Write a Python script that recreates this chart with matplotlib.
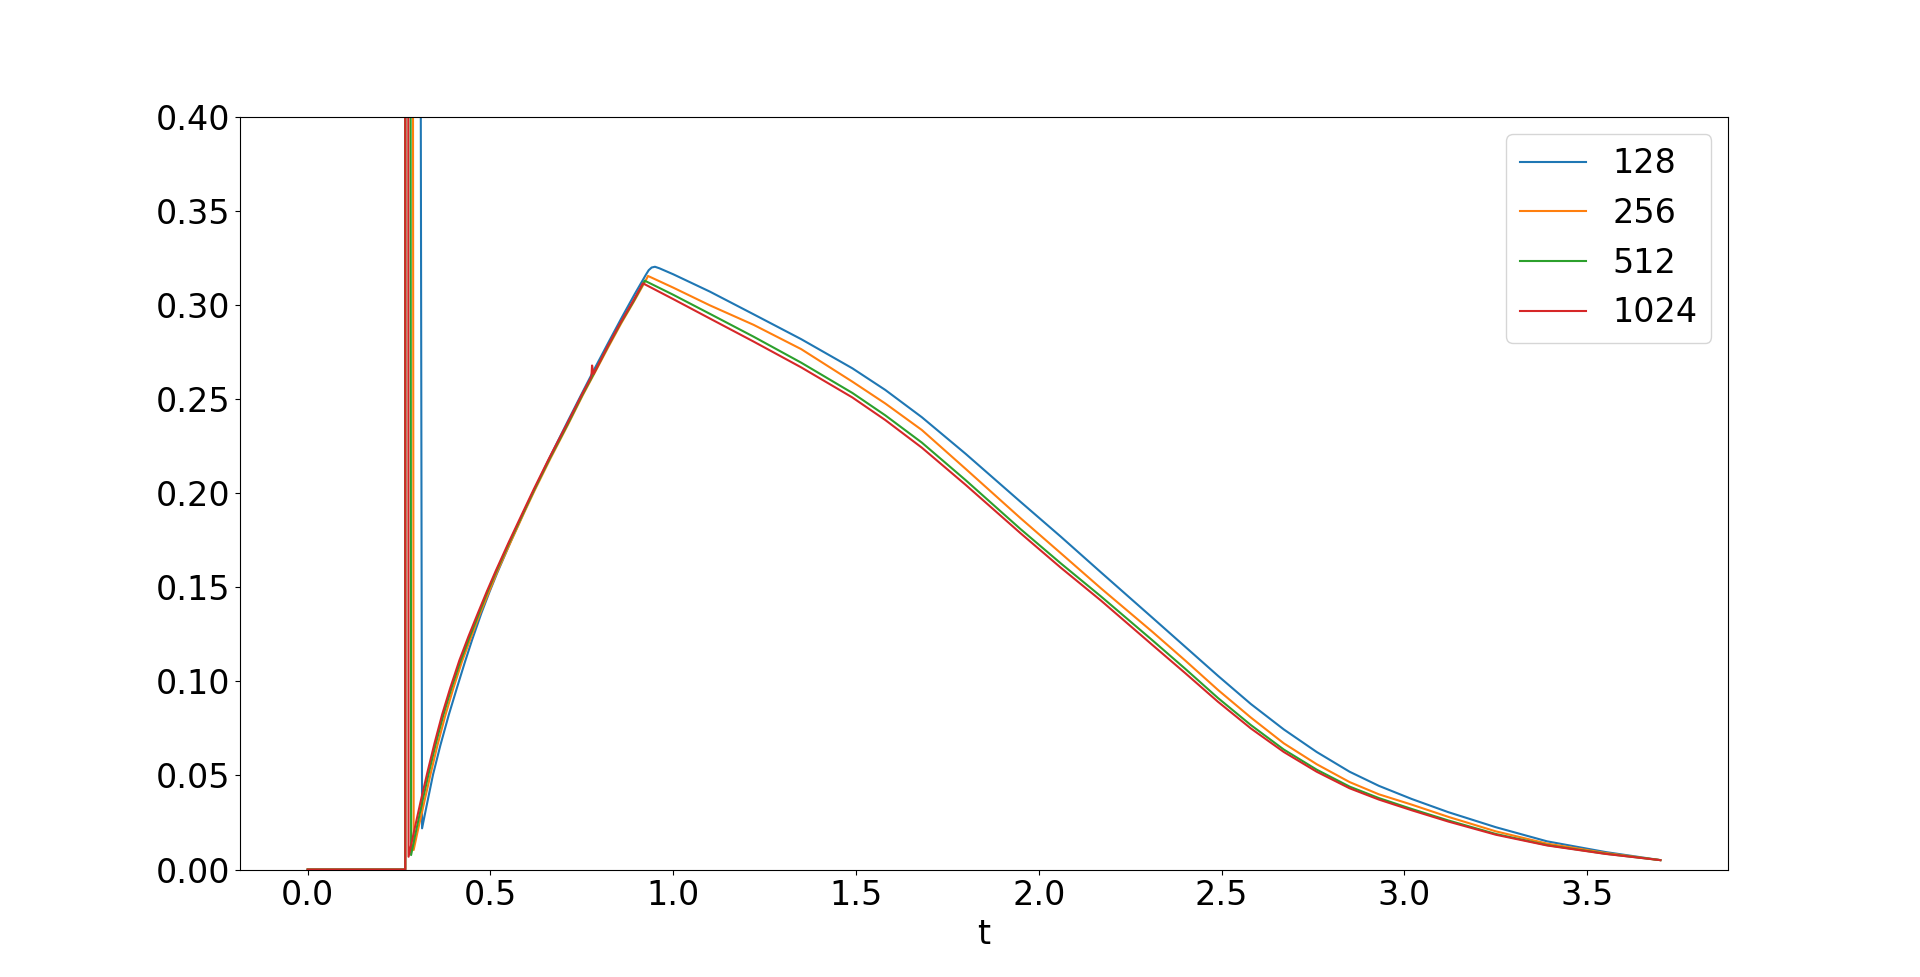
import matplotlib
matplotlib.use("Agg")
import matplotlib.pyplot as plt

# resolution labels
labels = ["128", "256", "512", "1024"]

# zero start, spike off the top at t~0.267, dip, rise to the kink, then decay
t_128 = [0.0, 0.267, 0.2672, 0.313, 0.325, 0.343, 0.363, 0.386, 0.409, 0.430,
         0.450, 0.475, 0.498, 0.518, 0.556, 0.598, 0.6255, 0.668, 0.714, 0.755,
         0.787, 0.825, 0.860, 0.895, 0.925, 0.933, 0.941, 0.950, 0.962, 1.0,
         1.1, 1.22, 1.35, 1.49, 1.58, 1.68, 1.80, 1.95, 2.06, 2.17,
         2.31, 2.40, 2.49, 2.58, 2.67, 2.76, 2.85, 2.93, 3.02, 3.12,
         3.25, 3.39, 3.55, 3.70]
v_128 = [0.0, 0.0, 5.0, 0.0219, 0.0335, 0.0505, 0.0660, 0.0822, 0.0970, 0.1102,
         0.1222, 0.1362, 0.1479, 0.1575, 0.1746, 0.1927, 0.2042, 0.2214, 0.2393, 0.2550,
         0.2671, 0.2811, 0.2938, 0.3061, 0.3162, 0.3187, 0.3201, 0.3205, 0.3197, 0.3165,
         0.3073, 0.2952, 0.2820, 0.2665, 0.2550, 0.2405, 0.2210, 0.1955, 0.1770, 0.1580,
         0.1340, 0.1185, 0.1030, 0.0880, 0.0745, 0.0625, 0.0520, 0.0445, 0.0375, 0.0305,
         0.0225, 0.0150, 0.0093, 0.0050]

t_256 = [0.0, 0.267, 0.2672, 0.290, 0.300, 0.318, 0.336, 0.355, 0.376, 0.398,
         0.422, 0.447, 0.471, 0.496, 0.520, 0.555, 0.594, 0.622, 0.664, 0.712,
         0.752, 0.785, 0.823, 0.858, 0.893, 0.925, 0.931, 1.0, 1.1, 1.22,
         1.35, 1.49, 1.58, 1.68, 1.80, 1.95, 2.06, 2.17, 2.31, 2.40,
         2.49, 2.58, 2.67, 2.76, 2.85, 2.93, 3.02, 3.12, 3.25, 3.39,
         3.55, 3.70]
v_256 = [0.0, 0.0, 5.0, 0.0104, 0.0195, 0.0350, 0.0505, 0.0660, 0.0815, 0.0960,
         0.1105, 0.1235, 0.1358, 0.1476, 0.1590, 0.1740, 0.1905, 0.2020, 0.2185, 0.2365,
         0.2520, 0.2640, 0.2780, 0.2905, 0.3022, 0.3133, 0.3156, 0.3094, 0.3000, 0.2896,
         0.2767, 0.2594, 0.2478, 0.2337, 0.2130, 0.1868, 0.1682, 0.1495, 0.1265, 0.1112,
         0.0955, 0.0808, 0.0671, 0.0560, 0.0465, 0.0400, 0.0345, 0.0280, 0.0203, 0.0138,
         0.0088, 0.0050]

t_512 = [0.0, 0.267, 0.2672, 0.283, 0.296, 0.313, 0.331, 0.350, 0.371, 0.393,
         0.418, 0.443, 0.468, 0.492, 0.517, 0.552, 0.592, 0.620, 0.662, 0.711,
         0.751, 0.783, 0.821, 0.856, 0.891, 0.922, 1.0, 1.1, 1.22, 1.35,
         1.49, 1.58, 1.68, 1.80, 1.95, 2.06, 2.17, 2.31, 2.40, 2.49,
         2.58, 2.67, 2.76, 2.85, 2.93, 3.02, 3.12, 3.25, 3.39, 3.55,
         3.70]
v_512 = [0.0, 0.0, 5.0, 0.0077, 0.0200, 0.0355, 0.0510, 0.0665, 0.0820, 0.0962,
         0.1108, 0.1236, 0.1359, 0.1477, 0.1590, 0.1740, 0.1905, 0.2020, 0.2185, 0.2367,
         0.2522, 0.2638, 0.2780, 0.2905, 0.3020, 0.3131, 0.3056, 0.2955, 0.2833, 0.2695,
         0.2534, 0.2415, 0.2270, 0.2070, 0.1810, 0.1628, 0.1452, 0.1220, 0.1068, 0.0912,
         0.0768, 0.0638, 0.0531, 0.0441, 0.0380, 0.0322, 0.0261, 0.0189, 0.0130, 0.0084,
         0.0050]

t_1024 = [0.0, 0.267, 0.2672, 0.276, 0.293, 0.310, 0.328, 0.347, 0.368, 0.390,
          0.415, 0.440, 0.465, 0.490, 0.515, 0.55, 0.59, 0.618, 0.66, 0.7095,
          0.75, 0.776, 0.778, 0.782, 0.82, 0.855, 0.89, 0.917, 1.0, 1.1,
          1.22, 1.35, 1.49, 1.58, 1.68, 1.80, 1.95, 2.06, 2.17, 2.31,
          2.40, 2.49, 2.58, 2.67, 2.76, 2.85, 2.93, 3.02, 3.12, 3.25,
          3.39, 3.55, 3.70]
v_1024 = [0.0, 0.0, 5.0, 0.0068, 0.0220, 0.0370, 0.0520, 0.0671, 0.0825, 0.0965,
          0.1112, 0.1240, 0.1360, 0.1478, 0.1590, 0.1740, 0.1905, 0.2020, 0.2185, 0.2370,
          0.2525, 0.2620, 0.2680, 0.2635, 0.2780, 0.2905, 0.3022, 0.3117, 0.3033, 0.2930,
          0.2807, 0.2670, 0.2510, 0.2390, 0.2243, 0.2045, 0.1788, 0.1605, 0.1430, 0.1195,
          0.1045, 0.0892, 0.0750, 0.0625, 0.0520, 0.0432, 0.0372, 0.0315, 0.0255, 0.0185,
          0.0128, 0.0083, 0.0050]

plt.rcParams["font.size"] = 24
fig, ax = plt.subplots(figsize=(19.2, 9.77), dpi=100)
ax.plot(t_128, v_128, label=labels[0])
ax.plot(t_256, v_256, label=labels[1])
ax.plot(t_512, v_512, label=labels[2])
ax.plot(t_1024, v_1024, label=labels[3])
ax.set_ylim(0, 0.4)
ax.set_xlabel("t")
ax.legend(loc="upper right")
fig.savefig("out.png")
